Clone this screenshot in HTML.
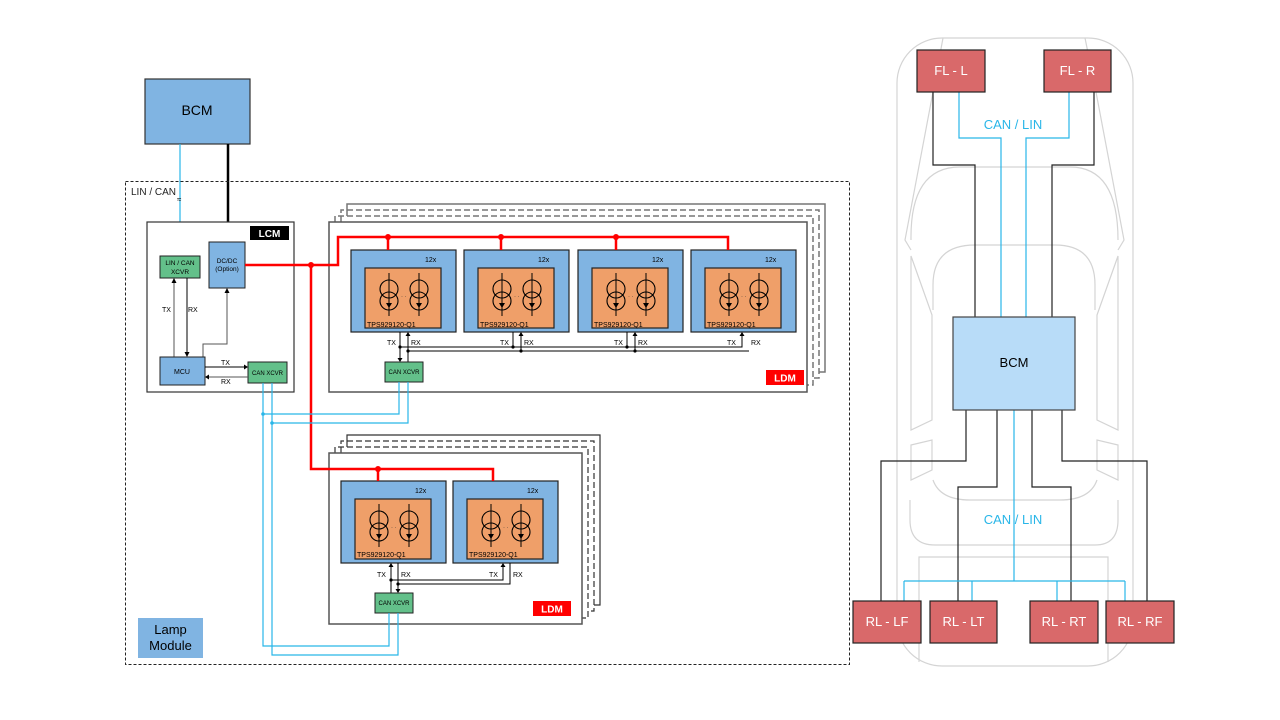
<!DOCTYPE html>
<html><head><meta charset="utf-8"><style>
html,body{margin:0;padding:0;background:#fff;}
svg{display:block;font-family:"Liberation Sans",Arial,sans-serif;}
</style></head><body>
<svg width="1280" height="720" viewBox="0 0 1280 720" xmlns="http://www.w3.org/2000/svg">
<defs>
<g id="cs">
<line x1="0" y1="-17" x2="0" y2="26" stroke="#000" stroke-width="1"/>
<circle cx="0" cy="-1" r="9" fill="none" stroke="#000" stroke-width="1.1"/>
<circle cx="0" cy="11" r="9" fill="none" stroke="#000" stroke-width="1.1"/>
<polygon points="-3,13 3,13 0,18" fill="#000"/>
</g>
<g id="mod">
<rect x="0" y="0" width="105" height="82" fill="#80b4e2" stroke="#222" stroke-width="1.2"/>
<rect x="14" y="18" width="76" height="60" fill="#ef9f69" stroke="#222" stroke-width="1.2"/>
<use href="#cs" x="38" y="40"/>
<use href="#cs" x="68" y="40"/>
<text x="50" y="48" font-size="6" fill="#333">· ·</text>
</g>
</defs>

<!-- Left BCM -->
<rect x="145" y="79" width="105" height="65" fill="#80b4e2" stroke="#333" stroke-width="1.2"/>
<text x="197" y="115" font-size="14" text-anchor="middle">BCM</text>
<line x1="180" y1="144" x2="180" y2="256" stroke="#29b6e8" stroke-width="1.2"/>
<line x1="228" y1="144" x2="228" y2="242" stroke="#000" stroke-width="2.5"/>

<!-- outer dashed -->
<rect x="125.5" y="181.5" width="724" height="483" fill="none" stroke="#222" stroke-width="1" stroke-dasharray="3,2"/>
<text x="131" y="195" font-size="10" fill="#222">LIN / CAN</text>
<text x="177" y="202" font-size="8">≈</text>

<!-- LCM -->
<rect x="147" y="222" width="147" height="170" fill="#fff" stroke="#333" stroke-width="1.2"/>
<rect x="250" y="226" width="39" height="14" fill="#000"/>
<text x="269.5" y="237" font-size="10" font-weight="bold" fill="#fff" text-anchor="middle">LCM</text>
<rect x="160" y="256" width="40" height="22" fill="#63c08a" stroke="#222" stroke-width="1"/>
<text x="180" y="265" font-size="6.5" text-anchor="middle">LIN / CAN</text>
<text x="180" y="274" font-size="6.5" text-anchor="middle">XCVR</text>
<rect x="209" y="242" width="36" height="46" fill="#80b4e2" stroke="#222" stroke-width="1"/>
<text x="227" y="263" font-size="6.5" text-anchor="middle">DC/DC</text>
<text x="227" y="271" font-size="6.5" text-anchor="middle">(Option)</text>
<line x1="174" y1="357" x2="174" y2="281" stroke="#555" stroke-width="1"/>
<polygon points="171.5,283 176.5,283 174,278" fill="#000"/>
<line x1="187" y1="278" x2="187" y2="354" stroke="#000" stroke-width="1"/>
<polygon points="184.5,352 189.5,352 187,357" fill="#000"/>
<text x="162" y="312" font-size="7">TX</text>
<text x="188" y="312" font-size="7">RX</text>
<polyline points="203,357 203,344 227,344 227,291" fill="none" stroke="#555" stroke-width="1"/>
<polygon points="224.5,293 229.5,293 227,288" fill="#000"/>
<rect x="160" y="357" width="45" height="28" fill="#80b4e2" stroke="#222" stroke-width="1"/>
<text x="182" y="374" font-size="7" text-anchor="middle">MCU</text>
<rect x="248" y="362" width="39" height="21" fill="#63c08a" stroke="#222" stroke-width="1"/>
<text x="267.5" y="375" font-size="6" text-anchor="middle">CAN XCVR</text>
<line x1="205" y1="367" x2="245" y2="367" stroke="#000" stroke-width="1"/>
<polygon points="244,364.5 244,369.5 248,367" fill="#000"/>
<line x1="248" y1="377" x2="208" y2="377" stroke="#555" stroke-width="1"/>
<polygon points="209,374.5 209,379.5 205,377" fill="#000"/>
<text x="221" y="365" font-size="7">TX</text>
<text x="221" y="384" font-size="7">RX</text>

<!-- Upper LDM stack -->
<polyline points="347,216 347,204 825,204 825,372 819,372" fill="none" stroke="#777" stroke-width="1.5"/>
<polyline points="341,222 341,210 819,210 819,378 813,378" fill="none" stroke="#777" stroke-width="1.5" stroke-dasharray="6,3"/>
<polyline points="335,222 335,216 813,216 813,385 807,385" fill="none" stroke="#777" stroke-width="1.5" stroke-dasharray="6,3"/>
<rect x="329" y="222" width="478" height="170" fill="#fff" stroke="#555" stroke-width="1.5"/>
<use href="#mod" x="351" y="250"/>
<use href="#mod" x="464" y="250"/>
<use href="#mod" x="578" y="250"/>
<use href="#mod" x="691" y="250"/>
<g font-size="7">
<text x="425" y="262">12x</text><text x="538" y="262">12x</text><text x="652" y="262">12x</text><text x="765" y="262">12x</text>
<text x="367" y="327">TPS929120-Q1</text><text x="480" y="327">TPS929120-Q1</text><text x="594" y="327">TPS929120-Q1</text><text x="707" y="327">TPS929120-Q1</text>
</g>
<g stroke="#000" stroke-width="1" fill="none">
<line x1="400" y1="332" x2="400" y2="359"/>
<line x1="408" y1="362" x2="408" y2="335"/>
<polyline points="400,347 742,347 742,335"/>
<polyline points="408,351 749,351"/>
<line x1="513" y1="332" x2="513" y2="347"/><line x1="521" y1="351" x2="521" y2="335"/>
<line x1="627" y1="332" x2="627" y2="347"/><line x1="635" y1="351" x2="635" y2="335"/>
</g>
<g fill="#000">
<polygon points="397.5,358 402.5,358 400,362"/>
<polygon points="405.5,336 410.5,336 408,332"/>
<polygon points="518.5,336 523.5,336 521,332"/>
<polygon points="632.5,336 637.5,336 635,332"/>
<polygon points="739.5,336 744.5,336 742,332"/>
<circle cx="400" cy="347" r="1.6"/><circle cx="408" cy="351" r="1.6"/>
<circle cx="513" cy="347" r="1.6"/><circle cx="521" cy="351" r="1.6"/>
<circle cx="627" cy="347" r="1.6"/><circle cx="635" cy="351" r="1.6"/>
</g>
<g font-size="7">
<text x="387" y="345">TX</text><text x="411" y="345">RX</text>
<text x="500" y="345">TX</text><text x="524" y="345">RX</text>
<text x="614" y="345">TX</text><text x="638" y="345">RX</text>
<text x="727" y="345">TX</text><text x="751" y="345">RX</text>
</g>
<rect x="385" y="362" width="38" height="20" fill="#63c08a" stroke="#222" stroke-width="1"/>
<text x="404" y="374" font-size="6" text-anchor="middle">CAN XCVR</text>
<rect x="766" y="370" width="38" height="15" fill="#f00"/>
<text x="785" y="381.5" font-size="10" font-weight="bold" fill="#fff" text-anchor="middle">LDM</text>

<!-- Lower LDM stack -->
<polyline points="347,447 347,435 600,435 600,605 594,605" fill="none" stroke="#333" stroke-width="1.2"/>
<polyline points="341,453 341,441 594,441 594,611 588,611" fill="none" stroke="#333" stroke-width="1.2" stroke-dasharray="6,3"/>
<polyline points="335,453 335,447 588,447 588,618 582,618" fill="none" stroke="#333" stroke-width="1.2" stroke-dasharray="6,3"/>
<rect x="329" y="453" width="253" height="171" fill="#fff" stroke="#555" stroke-width="1.5"/>
<use href="#mod" x="341" y="481"/>
<use href="#mod" x="453" y="481"/>
<g font-size="7">
<text x="415" y="493">12x</text><text x="527" y="493">12x</text>
<text x="357" y="557">TPS929120-Q1</text><text x="469" y="557">TPS929120-Q1</text>
</g>
<g stroke="#000" stroke-width="1" fill="none">
<line x1="391" y1="593" x2="391" y2="566"/>
<line x1="398" y1="563" x2="398" y2="590"/>
<polyline points="391,580 503,580 503,566"/>
<polyline points="398,584 510,584 510,563"/>
</g>
<g fill="#000">
<polygon points="388.5,567 393.5,567 391,563"/>
<polygon points="395.5,589 400.5,589 398,593"/>
<polygon points="500.5,567 505.5,567 503,563"/>
<circle cx="391" cy="580" r="1.6"/><circle cx="398" cy="584" r="1.6"/>
</g>
<g font-size="7">
<text x="377" y="577">TX</text><text x="401" y="577">RX</text>
<text x="489" y="577">TX</text><text x="513" y="577">RX</text>
</g>
<rect x="375" y="593" width="38" height="20" fill="#63c08a" stroke="#222" stroke-width="1"/>
<text x="394" y="605" font-size="6" text-anchor="middle">CAN XCVR</text>
<rect x="533" y="601" width="38" height="15" fill="#f00"/>
<text x="552" y="612.5" font-size="10" font-weight="bold" fill="#fff" text-anchor="middle">LDM</text>

<!-- Red power lines -->
<g stroke="#f00" stroke-width="2.5" fill="none">
<polyline points="245,265 338,265 338,237 728,237 728,250"/>
<line x1="388" y1="237" x2="388" y2="250"/>
<line x1="501" y1="237" x2="501" y2="250"/>
<line x1="616" y1="237" x2="616" y2="250"/>
<polyline points="311,265 311,469 493,469 493,481"/>
<line x1="378" y1="469" x2="378" y2="481"/>
</g>
<g fill="#f00">
<circle cx="311" cy="265" r="3"/><circle cx="388" cy="237" r="3"/><circle cx="501" cy="237" r="3"/><circle cx="616" cy="237" r="3"/><circle cx="378" cy="469" r="3"/>
</g>

<!-- Blue CAN lines -->
<g stroke="#29b6e8" stroke-width="1.2" fill="none">
<polyline points="263,383 263,646 389,646 389,613"/>
<polyline points="272,383 272,655 398,655 398,613"/>
<polyline points="263,414 399,414 399,382"/>
<polyline points="272,423 408,423 408,382"/>
</g>
<circle cx="263" cy="414" r="1.8" fill="#29b6e8"/><circle cx="272" cy="423" r="1.8" fill="#29b6e8"/>

<rect x="138" y="618" width="65" height="40" fill="#80b4e2"/>
<text x="170.5" y="634" font-size="13" text-anchor="middle">Lamp</text>
<text x="170.5" y="650" font-size="13" text-anchor="middle">Module</text>

<!-- Car outline -->
<g stroke="#d4d4d4" stroke-width="1.2" fill="none">
<rect x="897" y="38" width="236" height="628" rx="45"/>
<path d="M943,38 L933,92 L905,240 L911,250"/>
<path d="M1085,38 L1096,92 L1124,240 L1118,250"/>
<path d="M911,240 Q910,167 960,167 L1070,167 Q1118,167 1118,240"/>
<path d="M933,285 Q933,245 975,245 L1055,245 Q1095,245 1095,285 L1095,310"/>
<path d="M933,285 L933,310"/>
<path d="M911,256 L911,430 L932,420 L932,315 Z"/>
<path d="M1118,256 L1118,430 L1097,420 L1097,315 Z"/>
<path d="M911,445 L911,480 L932,470 L932,440 Z"/>
<path d="M1118,445 L1118,480 L1097,470 L1097,440 Z"/>
<path d="M933,480 Q940,500 970,500 L1060,500 Q1090,500 1097,480"/>
<path d="M910,500 L910,520 Q910,545 935,545 L1095,545 Q1118,545 1118,520 L1118,500"/>
<path d="M919,662 L919,557 L1108,557 L1108,662"/>
</g>

<!-- Right side wiring -->
<g stroke="#222" stroke-width="1.2" fill="none">
<polyline points="933,92 933,165 975,165 975,317"/>
<polyline points="1094,92 1094,165 1052,165 1052,317"/>
<polyline points="966,410 966,461 881,461 881,601"/>
<polyline points="997,410 997,487 958,487 958,601"/>
<polyline points="1032,410 1032,487 1071,487 1071,601"/>
<polyline points="1062,410 1062,461 1147,461 1147,601"/>
</g>
<g stroke="#29b6e8" stroke-width="1.2" fill="none">
<polyline points="959,92 959,138 1001,138 1001,317"/>
<polyline points="1069,92 1069,138 1026,138 1026,317"/>
<line x1="1014" y1="410" x2="1014" y2="581"/>
<line x1="904" y1="581" x2="1125" y2="581"/>
<line x1="904" y1="581" x2="904" y2="601"/><line x1="972" y1="581" x2="972" y2="601"/>
<line x1="1057" y1="581" x2="1057" y2="601"/><line x1="1125" y1="581" x2="1125" y2="601"/>
</g>
<text x="1013" y="129" font-size="13" fill="#29b6e8" text-anchor="middle">CAN / LIN</text>
<text x="1013" y="524" font-size="13" fill="#29b6e8" text-anchor="middle">CAN / LIN</text>

<g stroke="#222" stroke-width="1.2" fill="#d9696a">
<rect x="917" y="50" width="68" height="42"/>
<rect x="1044" y="50" width="67" height="42"/>
<rect x="853" y="601" width="68" height="42"/>
<rect x="930" y="601" width="67" height="42"/>
<rect x="1030" y="601" width="68" height="42"/>
<rect x="1106" y="601" width="68" height="42"/>
</g>
<g font-size="13" fill="#fff" text-anchor="middle">
<text x="951" y="75">FL - L</text>
<text x="1077.5" y="75">FL - R</text>
<text x="887" y="626">RL - LF</text>
<text x="963.5" y="626">RL - LT</text>
<text x="1064" y="626">RL - RT</text>
<text x="1140" y="626">RL - RF</text>
</g>
<rect x="953" y="317" width="122" height="93" fill="#b8dcf8" stroke="#444" stroke-width="1.2"/>
<text x="1014" y="367" font-size="13" text-anchor="middle">BCM</text>
</svg>
</body></html>
